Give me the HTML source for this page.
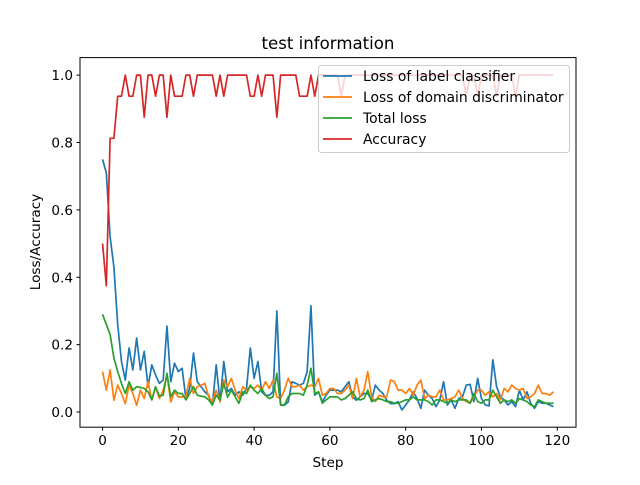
<!DOCTYPE html>
<html><head><meta charset="utf-8"><style>
body{margin:0;background:#fff;}
svg text{font-family:"DejaVu Sans","Liberation Sans",sans-serif;fill:#000;}
</style></head><body>
<svg id="chart" width="640" height="480" xmlns="http://www.w3.org/2000/svg">
<rect width="640" height="480" fill="#fff"/>
<text x="328" y="49" font-size="16.6" text-anchor="middle">test information</text>
<g id="plot"></g>
<rect x="80" y="57.6" width="496" height="369.6" fill="none" stroke="#000" stroke-width="1"/>
<g id="ticks"></g>
<text x="328" y="467" font-size="13.6" text-anchor="middle">Step</text>
<text transform="translate(40,242) rotate(-90)" font-size="13.6" text-anchor="middle">Loss/Accuracy</text>
<g id="legend"></g>
</svg>
<script>
const seriesNames = ["Loss of label classifier","Loss of domain discriminator","Total loss","Accuracy"];
const seriesColors = ["#1f77b4","#ff7f0e","#2ca02c","#d62728"];
const xTicks = [0,20,40,60,80,100,120];
const yTicks = [0.0,0.2,0.4,0.6,0.8,1.0];
const yTickLabels = ["0.0","0.2","0.4","0.6","0.8","1.0"];
const labelLoss = [0.75,0.71,0.52,0.43,0.26,0.15,0.095,0.19,0.125,0.22,0.125,0.18,0.075,0.14,0.11,0.085,0.095,0.255,0.09,0.145,0.12,0.13,0.04,0.07,0.175,0.09,0.075,0.06,0.05,0.02,0.14,0.03,0.15,0.06,0.07,0.05,0.06,0.05,0.07,0.19,0.1,0.15,0.06,0.05,0.05,0.06,0.30,0.02,0.02,0.03,0.09,0.085,0.08,0.085,0.12,0.315,0.05,0.06,0.03,0.05,0.065,
0.065,0.065,0.06,0.075,0.09,0.045,0.035,0.045,0.055,0.055,0.035,0.08,0.065,0.055,0.035,0.025,0.025,0.031,0.006,0.021,0.036,0.06,0.04,0.011,0.065,0.05,0.04,0.016,0.036,0.09,0.021,0.036,0.011,0.04,0.045,0.08,0.082,0.031,0.1,0.04,0.021,0.018,0.155,0.075,0.045,0.036,0.021,0.031,0.016,0.065,0.036,0.06,0.026,0.011,0.031,0.026,0.026,0.021,0.016];
const domainLoss = [0.12,0.065,0.125,0.035,0.08,0.055,0.025,0.08,0.055,0.02,0.065,0.04,0.09,0.036,0.075,0.04,0.065,0.11,0.03,0.06,0.045,0.045,0.045,0.1,0.055,0.075,0.08,0.085,0.045,0.031,0.065,0.031,0.095,0.075,0.1,0.065,0.04,0.075,0.065,0.075,0.07,0.08,0.065,0.09,0.07,0.095,0.045,0.04,0.065,0.1,0.075,0.075,0.08,0.065,0.075,0.08,0.075,0.1,0.05,0.055,0.07,
0.07,0.055,0.055,0.065,0.08,0.04,0.1,0.045,0.065,0.12,0.045,0.031,0.05,0.045,0.045,0.095,0.09,0.065,0.065,0.055,0.07,0.05,0.08,0.095,0.04,0.05,0.045,0.045,0.065,0.036,0.036,0.04,0.045,0.065,0.04,0.031,0.026,0.045,0.065,0.065,0.05,0.06,0.045,0.055,0.036,0.07,0.06,0.08,0.07,0.065,0.07,0.04,0.045,0.055,0.08,0.055,0.055,0.05,0.06];
const totalLoss = [0.29,0.26,0.23,0.16,0.12,0.085,0.055,0.09,0.065,0.075,0.073,0.07,0.06,0.036,0.075,0.047,0.05,0.115,0.045,0.065,0.055,0.055,0.036,0.055,0.075,0.05,0.047,0.045,0.036,0.021,0.05,0.036,0.085,0.044,0.065,0.045,0.026,0.06,0.055,0.08,0.065,0.055,0.07,0.05,0.04,0.045,0.115,0.021,0.021,0.045,0.055,0.055,0.055,0.05,0.08,0.13,0.055,0.06,0.026,0.036,0.045,
0.045,0.045,0.036,0.04,0.05,0.06,0.04,0.036,0.04,0.065,0.031,0.036,0.04,0.036,0.031,0.031,0.026,0.026,0.031,0.036,0.036,0.045,0.036,0.036,0.036,0.031,0.021,0.036,0.036,0.031,0.026,0.036,0.031,0.036,0.036,0.036,0.026,0.055,0.031,0.026,0.036,0.036,0.065,0.045,0.026,0.036,0.031,0.036,0.026,0.04,0.036,0.031,0.021,0.016,0.036,0.031,0.026,0.026,0.026];
const accuracy = [0.5,0.375,0.8125,0.8125,0.9375,0.9375,1,0.9375,0.9375,1,1,0.875,1,1,0.9375,1,1,0.875,1,0.9375,0.9375,0.9375,1,1,0.9375,1,1,1,1,1,0.9375,1,0.9375,1,1,1,1,1,1,0.9375,0.9375,1,0.9375,1,1,1,0.875,1,1,1,1,1,0.9375,0.9375,0.9375,1,0.9375,1,1,1,1,1,1,0.9375,1,1,1,1,1,1,1,1,1,1,1,1,1,1,1,1,1,1,1,1,1,1,1,1,1,1,1,1,1,1,1,1,0.9375,1,1,0.9375,1,1,1,1,0.9375,1,1,1,1,0.9375,1,1,1,1,1,1,1,1,1,1];
const allSeries = [labelLoss,domainLoss,totalLoss,accuracy];

const NS="http://www.w3.org/2000/svg";
const xMin=-5.95,xMax=124.95,yMin=-0.045,yMax=1.052;
const X=v=>80+(v-xMin)/(xMax-xMin)*496;
const Y=v=>427.2-(v-yMin)/(yMax-yMin)*369.6;
function mk(t,a,p){const e=document.createElementNS(NS,t);for(const k in a)e.setAttribute(k,a[k]);p.appendChild(e);return e;}
const plot=document.getElementById('plot'),ticks=document.getElementById('ticks'),legend=document.getElementById('legend');
allSeries.forEach((s,i)=>{
  const pts=s.map((v,j)=>X(j).toFixed(2)+','+Y(v).toFixed(2)).join(' ');
  const pl=mk('polyline',{points:pts,fill:'none',stroke:seriesColors[i],'stroke-width':1.7,'stroke-linejoin':'round'},plot);
  
  
});
xTicks.forEach(t=>{
  const l=mk('line',{x1:X(t),x2:X(t),y1:427.2,y2:430.7,stroke:'#000'},ticks);
  
  
  const tx=mk('text',{x:X(t),y:445,'font-size':13.6,'text-anchor':'middle'},ticks);tx.textContent=t;
  
  
});
yTicks.forEach((t,i)=>{
  const l=mk('line',{x1:76.5,x2:80,y1:Y(t),y2:Y(t),stroke:'#000'},ticks);
  
  
  const tx=mk('text',{x:73,y:Y(t)+5,'font-size':13.6,'text-anchor':'end'},ticks);tx.textContent=yTickLabels[i];
  
  
});
const box=mk('rect',{x:318.5,y:65.5,width:251,height:87,rx:3,fill:'#fff','fill-opacity':0.8,stroke:'#ccc'},legend);


seriesNames.forEach((n,i)=>{
  const y=76+i*21;
  const g=mk('g',{},legend);
  
  
  mk('line',{x1:323,x2:352,y1:y,y2:y,stroke:seriesColors[i],'stroke-width':1.7},g);
  const t=mk('text',{x:363,y:y+5,'font-size':13.9},g);t.textContent=n;
});
</script>
</body></html>
